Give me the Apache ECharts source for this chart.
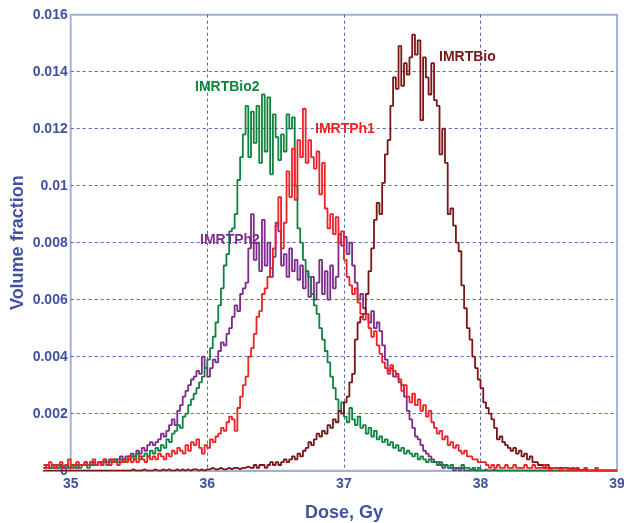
<!DOCTYPE html>
<html>
<head>
<meta charset="utf-8">
<script src="https://cdn.jsdelivr.net/npm/echarts@6/dist/echarts.min.js"></script>
<style>html,body{margin:0;padding:0;background:#fff}#c{width:624px;height:523px}</style>
</head>
<body>
<div id="c"></div>
<script>
// Histogram bins: start dose 34.80 Gy, width 0.02 Gy (211 bin edges to 39.00)
const binStart = 34.8, binWidth = 0.02, binCount = 211;
const dose = [];
for (let i = 0; i < binCount; i++) dose.push(+(binStart + i * binWidth).toFixed(2));

const xTicks = [35, 36, 37, 38, 39];
const yTicks = [0, 0.002, 0.004, 0.006, 0.008, 0.01, 0.012, 0.014, 0.016];

// IMRTBio (dark red)
const imrtBio = [
0,0,0,0,0,0,0,0,0,0,
0,0,0,0,0,0,0,0,0,0,
0,0,0,0,0,0,0,0,0,0,
0,0,.00005,0,0,0,.00005,0,0,0,
.00005,0,0,.00005,0,.00005,0,0,.00005,0,
.00005,0,.00005,0,.00005,.00005,0,.00005,0,.00005,
.00005,.0001,.00005,.00005,.0001,.00005,.00005,.0001,.00005,.0001,
.0001,.00005,.0001,.0001,.00015,.0001,.0001,.0002,.0001,.0002,
.0002,.0001,.0002,.0003,.0002,.0003,.0002,.0003,.0004,.0003,
.0004,.0005,.0004,.0006,.0005,.0007,.0008,.0010,.0009,.0011,
.0013,.0012,.0014,.0013,.0016,.0015,.0018,.0017,.0021,.0020,
.0024,.0026,.0031,.0034,.0046,.0052,.0054,.0055,.0062,.0070,
.0078,.0088,.0094,.0090,.0101,.0111,.0116,.0128,.0138,.0134,
.0149,.0135,.0143,.0139,.0145,.0153,.0146,.0151,.0123,.0145,
.0138,.0132,.0143,.0130,.0128,.0111,.0120,.0108,.0090,.0092,
.0086,.0080,.0077,.0065,.0057,.0050,.0046,.0040,.0036,.0032,
.0029,.0024,.0022,.0020,.0018,.0015,.0011,.0012,.0010,.0009,
.0008,.0007,.0008,.0006,.0007,.0005,.0006,.0004,.0005,.0003,
.0003,.0002,.0002,.0001,.0002,.0001,.0001,.0001,.0001,.0001,
.0001,.0001,.00005,.0001,.00005,.00005,0,.00005,0,0,
0,0,0,0,0,0,0,0,0,0,
0];

// IMRTBio2 (green)
const imrtBio2 = [
.0001,.0002,.0001,.0001,.0002,.0001,.0002,.0001,.0002,.0001,
.0002,.0001,.0002,.0001,.0002,.0002,.0001,.0003,.0002,.0002,
.0003,.0002,.0003,.0002,.0003,.0003,.0004,.0003,.0004,.0003,
.0004,.0004,.0005,.0004,.0006,.0004,.0005,.0006,.0005,.0007,
.0006,.0008,.0007,.0009,.0008,.0011,.0010,.0013,.0014,.0016,
.0015,.0019,.0020,.0023,.0025,.0027,.0029,.0031,.0033,.0036,
.0039,.0043,.0047,.0052,.0058,.0064,.0072,.0076,.0084,.0085,
.0090,.0102,.0110,.0118,.0128,.0110,.0126,.0115,.0128,.0108,
.0132,.0112,.0131,.0104,.0125,.0117,.0109,.0118,.0112,.0125,
.0120,.0124,.0100,.0085,.0080,.0074,.0070,.0068,.0062,.0058,
.0055,.0050,.0046,.0042,.0038,.0033,.0029,.0025,.0021,.0024,
.0019,.0017,.0022,.0018,.0016,.0019,.0015,.0016,.0013,.0015,
.0012,.0014,.0011,.0012,.0010,.0011,.0009,.0010,.0008,.0009,
.0007,.0008,.0006,.0007,.0006,.0005,.0006,.0004,.0005,.0004,
.0003,.0004,.0003,.0003,.0002,.0003,.0002,.0002,.0001,.0002,
.0001,.0001,.0001,.0002,.0001,.0001,0,.0001,0,.0001,
0,.00005,0,0,.00005,0,0,0,0,0,
0,0,0,0,0,0,0,0,0,0,
0,0,0,0,0,0,0,0,0,0,
0,0,0,0,0,0,0,0,0,0,
0,0,0,0,0,0,0,0,0,0,
0];

// IMRTPh1 (red)
const imrtPh1 = [
.0002,.0001,.0003,.0002,.0001,.0002,.0003,.0001,.0002,.0004,
.0001,.0002,.0003,.0002,.0002,.0003,.0002,.0003,.0004,.0002,
.0003,.0002,.0004,.0003,.0002,.0004,.0003,.0002,.0003,.0004,
.0003,.0005,.0003,.0004,.0003,.0005,.0004,.0003,.0005,.0004,
.0005,.0004,.0006,.0005,.0004,.0006,.0005,.0007,.0006,.0008,
.0007,.0006,.0009,.0007,.0010,.0009,.0011,.0008,.0006,.0009,
.0008,.0011,.0010,.0012,.0013,.0015,.0014,.0017,.0019,.0018,
.0014,.0022,.0026,.0030,.0033,.0040,.0043,.0048,.0054,.0056,
.0062,.0064,.0068,.0071,.0078,.0086,.0096,.0078,.0087,.0105,
.0096,.0113,.0095,.0116,.0110,.0127,.0108,.0116,.0110,.0106,
.0112,.0097,.0108,.0092,.0085,.0090,.0083,.0089,.0080,.0084,
.0074,.0068,.0065,.0062,.0064,.0059,.0055,.0053,.0055,.0050,
.0047,.0049,.0044,.0041,.0038,.0036,.0034,.0037,.0035,.0033,
.0032,.0028,.0030,.0026,.0024,.0027,.0023,.0025,.0021,.0023,
.0019,.0021,.0017,.0015,.0013,.0014,.0011,.0012,.0009,.0010,
.0008,.0009,.0007,.0006,.0007,.0005,.0005,.0004,.0004,.0003,
.0003,.0003,.0002,.0001,.0002,.0001,.0002,.0001,.0001,.0002,
.0001,.0001,.0002,.0001,.0001,.0001,.0002,.0001,.0001,.0002,
.0001,.0001,.0001,.0002,.0001,0,.0001,.0001,.0001,0,
.0001,.0001,0,.0001,0,.0001,0,0,.0001,0,
0,0,.0001,0,0,0,0,0,0,0,
0];

// IMRTPh2 (purple)
const imrtPh2 = [
.0001,.0002,.0001,.0002,.0001,.0001,.0002,.0001,.0002,.0001,
.0002,.0002,.0001,.0002,.0002,.0003,.0002,.0002,.0003,.0002,
.0003,.0003,.0004,.0003,.0004,.0003,.0004,.0004,.0005,.0004,
.0005,.0005,.0006,.0005,.0007,.0006,.0008,.0007,.0009,.0010,
.0009,.0010,.0011,.0013,.0012,.0014,.0016,.0018,.0016,.0021,
.0023,.0026,.0028,.0030,.0032,.0033,.0035,.0034,.0040,.0036,
.0033,.0036,.0039,.0038,.0042,.0045,.0044,.0048,.0050,.0054,
.0058,.0056,.0062,.0064,.0066,.0078,.0090,.0074,.0080,.0070,
.0088,.0072,.0080,.0068,.0075,.0087,.0084,.0072,.0076,.0068,
.0078,.0070,.0074,.0067,.0072,.0064,.0070,.0061,.0068,.0060,
.0066,.0074,.0062,.0070,.0060,.0072,.0064,.0068,.0083,.0079,
.0082,.0076,.0080,.0072,.0066,.0060,.0062,.0057,.0055,.0052,
.0056,.0050,.0052,.0049,.0044,.0039,.0035,.0036,.0033,.0034,
.0031,.0030,.0026,.0021,.0018,.0015,.0012,.0011,.0009,.0007,
.0006,.0005,.0004,.0003,.0003,.0002,.0001,.0002,.0001,.0001,
0,.0001,0,.0001,0,0,.00005,0,0,0,
0,0,0,0,0,0,0,0,0,0,
0,0,0,0,0,0,0,0,0,0,
0,0,0,0,0,0,0,0,0,0,
0,0,0,0,0,0,0,0,0,0,
0,0,0,0,0,0,0,0,0,0,
0];

const FONT = 'Liberation Sans, Arial, Helvetica, sans-serif';
const AXIS_BLUE = '#3F51A3';
const GRID_BLUE = '#5366B3';
const FRAME_BLUE = '#A3B1DA';

const chart = echarts.init(document.getElementById('c'), null, {renderer: 'canvas'});

function mk(name, vals, color, z) {
  return {
    name, type: 'line', xAxisIndex: 1, yAxisIndex: 1, step: 'end',
    symbol: 'none', z,
    lineStyle: {color, width: 1.8},
    itemStyle: {color},
    data: dose.map((d, i) => [d, vals[i]])
  };
}

chart.setOption({
  animation: false,
  backgroundColor: '#fff',
  grid: [
    {left: 70.7, right: 6.9, top: 14.7, bottom: 52.3, show: true, outerBoundsMode: 'none', containLabel: false,
     borderColor: FRAME_BLUE, borderWidth: 2, backgroundColor: 'transparent'},
    {left: 43.4, right: 6.9, top: 14.7, bottom: 52.3, outerBoundsMode: 'none', containLabel: false}
  ],
  xAxis: [
    {gridIndex: 0, type: 'value', min: xTicks[0], max: xTicks[xTicks.length - 1], interval: 1,
     axisLine: {show: false}, axisTick: {show: false},
     axisLabel: {color: AXIS_BLUE, fontFamily: FONT, fontWeight: 'bold', fontSize: 14, margin: 6,
                 customValues: xTicks},
     splitLine: {show: true, showMinLine: false, showMaxLine: false,
                 lineStyle: {color: GRID_BLUE, type: [3, 3], width: 1}},
     name: 'Dose, Gy', nameLocation: 'middle', nameGap: 33, nameMoveOverlap: false,
     nameTextStyle: {color: AXIS_BLUE, fontFamily: FONT, fontWeight: 'bold', fontSize: 18}},
    {gridIndex: 1, type: 'value', min: 34.8, max: 39,
     axisLine: {show: true, lineStyle: {color: FRAME_BLUE, width: 2}},
     axisTick: {show: false}, axisLabel: {show: false}, splitLine: {show: false}}
  ],
  yAxis: [
    {gridIndex: 0, type: 'value', min: yTicks[0], max: yTicks[yTicks.length - 1], interval: 0.002,
     axisLine: {show: false}, axisTick: {show: false},
     axisLabel: {color: AXIS_BLUE, fontFamily: FONT, fontWeight: 'bold', fontSize: 14, margin: 3,
                 showMinLabel: true, showMaxLabel: true},
     splitLine: {show: true, showMinLine: false, showMaxLine: false,
                 lineStyle: {color: GRID_BLUE, type: [3, 3], width: 1}},
     name: 'Volume fraction', nameLocation: 'middle', nameGap: 44, nameRotate: 90, nameMoveOverlap: false,
     nameTextStyle: {color: AXIS_BLUE, fontFamily: FONT, fontWeight: 'bold', fontSize: 18}},
    {gridIndex: 1, type: 'value', min: 0, max: 0.016, show: false}
  ],
  series: [
    mk('IMRTPh2', imrtPh2, '#7D2B8C', 3),
    mk('IMRTBio2', imrtBio2, '#0F8340', 4),
    mk('IMRTBio', imrtBio, '#7A1518', 5),
    mk('IMRTPh1', imrtPh1, '#EE2226', 6)
  ],
  graphic: [
    {type: 'text', left: 439, top: 50, z: 10, style: {text: 'IMRTBio', fill: '#7A1518', font: 'bold 14px ' + FONT}},
    {type: 'text', left: 195, top: 80, z: 10, style: {text: 'IMRTBio2', fill: '#0F8340', font: 'bold 14px ' + FONT}},
    {type: 'text', left: 315, top: 122, z: 10, style: {text: 'IMRTPh1', fill: '#EE2226', font: 'bold 14px ' + FONT}},
    {type: 'text', left: 200, top: 233, z: 10, style: {text: 'IMRTPh2', fill: '#7D2B8C', font: 'bold 14px ' + FONT}}
  ]
});
</script>
</body>
</html>
